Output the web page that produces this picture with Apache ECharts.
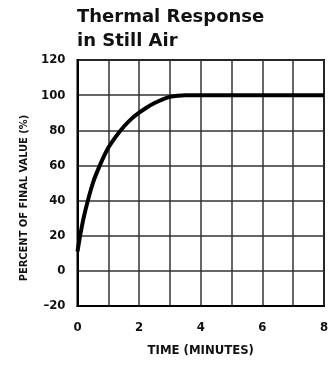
<!DOCTYPE html>
<html><head><meta charset="utf-8">
<script src="https://cdn.jsdelivr.net/npm/echarts@6/dist/echarts.min.js"></script>
<style>html,body{margin:0;padding:0;background:#fff}#c{width:332px;height:366px}</style>
</head><body><div id="c"></div>
<script>
var titleText = 'Thermal Response\nin Still Air';
var xName = 'TIME (MINUTES)';
var yName = 'PERCENT OF FINAL VALUE (%)';
var timeMin = [0, 0.1, 0.25, 0.5, 0.75, 1, 1.25, 1.5, 1.75, 2, 2.25, 2.5, 2.75, 3, 3.25, 3.5, 4, 5, 6, 7, 8];
var percent = [11, 21.5, 34, 50, 61, 70, 76.5, 82, 86.5, 90, 93, 95.5, 97.5, 99, 99.7, 100, 100, 100, 100, 100, 100];
var xTicks = [0, 2, 4, 6, 8];
var yTicks = [120, 100, 80, 60, 40, 20, 0, -20];

var data = timeMin.map(function (t, i) { return [t, percent[i]]; });
var labelFont = '"Liberation Sans Narrow", "DejaVu Sans Condensed", sans-serif';
var chart = echarts.init(document.getElementById('c'));
chart.setOption({
  animation: false,
  title: {
    text: titleText, left: 72, top: 0,
    textStyle: { fontFamily: '"DejaVu Sans", sans-serif', fontWeight: 'bold', fontSize: 18, lineHeight: 24, color: '#111' }
  },
  grid: { left: 77.5, right: 8, top: 60, bottom: 60, show: true, borderColor: '#000', borderWidth: 2 },
  xAxis: {
    type: 'value', min: 0, max: 8, interval: 1,
    name: xName, nameLocation: 'middle', nameGap: 38,
    nameTextStyle: { fontFamily: labelFont, fontWeight: 'bold', fontSize: 13, color: '#111' },
    axisLine: { show: true, onZero: false, lineStyle: { color: '#000', width: 2 } },
    axisTick: { show: false },
    axisLabel: {
      margin: 15, fontFamily: labelFont, fontWeight: 'bold', fontSize: 13, color: '#111',
      formatter: function (v) { return xTicks.indexOf(v) >= 0 ? String(v) : ''; }
    },
    splitLine: { show: true, lineStyle: { color: '#333', width: 1.5 } }
  },
  yAxis: {
    type: 'value', min: -20, max: 120, interval: 20,
    name: yName, nameLocation: 'middle', nameGap: 48,
    nameTextStyle: { fontFamily: labelFont, fontWeight: 'bold', fontSize: 11, color: '#111', padding: [0, 30, 0, 0] },
    axisLine: { show: true, onZero: false, lineStyle: { color: '#000', width: 2 } },
    axisTick: { show: false },
    axisLabel: {
      margin: 12, fontFamily: labelFont, fontWeight: 'bold', fontSize: 13, color: '#111',
      formatter: function (v) { return yTicks.indexOf(v) >= 0 ? (v < 0 ? '\u2013' + Math.abs(v) : String(v)) : ''; }
    },
    splitLine: { show: true, lineStyle: { color: '#333', width: 1.5 } }
  },
  series: [{
    type: 'line', data: data, smooth: 0.3, showSymbol: false,
    lineStyle: { color: '#000', width: 4 }
  }]
});
</script></body></html>
